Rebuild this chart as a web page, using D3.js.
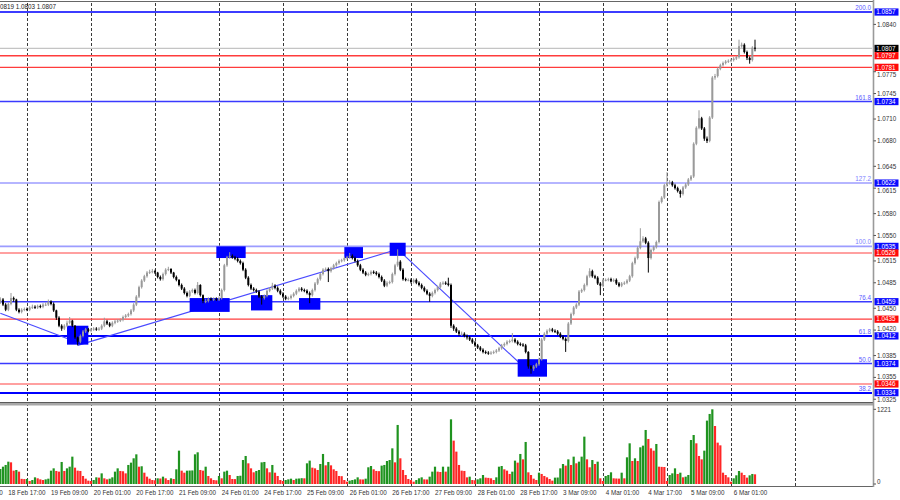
<!DOCTYPE html>
<html><head><meta charset="utf-8">
<script src="https://cdn.jsdelivr.net/npm/d3@7"></script>
<style>
body{margin:0;background:#fff}
svg{display:block}
text{font-family:"Liberation Sans",Arial,sans-serif;font-size:6.3px}
</style>
</head><body>
<svg id="chart" width="900" height="500"></svg>
<script>
// ---------------- DATA ----------------
const days = ["18 Feb","19 Feb","20 Feb","21 Feb","24 Feb","25 Feb","26 Feb","27 Feb","28 Feb","3 Mar","4 Mar","5 Mar","6 Mar","7 Mar"];
const firstHour = 14;           // first visible H1 bar: 18 Feb 14:00
const firstOpen = 1.0458;
const closes = [
1.0462,1.0455,1.0448,1.0456,1.0464,1.0462,1.0448,1.0445,1.0448,1.0449,
1.0448,1.0451,1.0452,1.0451,1.0453,1.0452,1.0455,1.0455,1.0459,1.0456,
1.0447,1.0437,1.0426,1.0422,1.0426,1.0430,1.0433,1.0426,1.0410,1.0404,
1.0412,1.0418,1.0421,1.0419,1.0421,1.0422,1.0421,1.0422,1.0426,1.0432,
1.0429,1.0426,1.0430,1.0432,1.0433,1.0434,1.0438,1.0440,1.0442,1.0447,
1.0455,1.0466,1.0479,1.0488,1.0494,1.0499,1.0500,1.0501,1.0499,1.0493,
1.0490,1.0497,1.0503,1.0504,1.0499,1.0493,1.0489,1.0482,1.0477,1.0471,
1.0467,1.0473,1.0475,1.0471,1.0482,1.0468,1.0460,1.0460,1.0463,1.0462,
1.0463,1.0462,1.0464,1.0475,1.0509,1.0520,1.0522,1.0520,1.0518,1.0515,
1.0512,1.0503,1.0492,1.0482,1.0477,1.0475,1.0473,1.0466,1.0464,1.0467,
1.0474,1.0477,1.0481,1.0478,1.0474,1.0470,1.0466,1.0463,1.0464,1.0467,
1.0470,1.0474,1.0477,1.0475,1.0474,1.0471,1.0468,1.0475,1.0484,1.0490,
1.0497,1.0503,1.0504,1.0501,1.0505,1.0509,1.0512,1.0515,1.0516,1.0519,
1.0520,1.0522,1.0519,1.0515,1.0509,1.0503,1.0499,1.0496,1.0497,1.0500,
1.0499,1.0497,1.0493,1.0488,1.0481,1.0485,1.0486,1.0497,1.0509,1.0514,
1.0503,1.0490,1.0489,1.0489,1.0486,1.0489,1.0485,1.0482,1.0478,1.0474,
1.0470,1.0467,1.0471,1.0475,1.0479,1.0484,1.0485,1.0484,1.0482,1.0426,
1.0422,1.0418,1.0415,1.0415,1.0412,1.0410,1.0407,1.0403,1.0399,1.0396,
1.0393,1.0390,1.0389,1.0388,1.0389,1.0390,1.0392,1.0395,1.0399,1.0401,
1.0404,1.0405,1.0407,1.0404,1.0401,1.0400,1.0399,1.0390,1.0370,1.0367,
1.0370,1.0373,1.0380,1.0407,1.0415,1.0419,1.0421,1.0419,1.0418,1.0415,
1.0411,1.0408,1.0405,1.0429,1.0442,1.0451,1.0455,1.0473,1.0475,1.0482,
1.0494,1.0501,1.0494,1.0492,1.0484,1.0481,1.0489,1.0489,1.0490,1.0488,
1.0489,1.0484,1.0481,1.0484,1.0485,1.0488,1.0494,1.0512,1.0519,1.0533,
1.0542,1.0546,1.0540,1.0519,1.0530,1.0534,1.0541,1.0596,1.0602,1.0619,
1.0622,1.0623,1.0619,1.0615,1.0611,1.0607,1.0616,1.0620,1.0627,1.0631,
1.0676,1.0698,1.0711,1.0697,1.0683,1.0680,1.0712,1.0767,1.0769,1.0779,
1.0784,1.0787,1.0789,1.0790,1.0791,1.0793,1.0795,1.0810,1.0812,1.0802,
1.0794,1.0791,1.0808,1.0807];
const highs = [
1.0465,1.0464,1.0457,1.0458,1.0471,1.0466,1.0463,1.0450,1.0450,1.0451,
1.0451,1.0453,1.0455,1.0454,1.0455,1.0455,1.0457,1.0458,1.0462,1.0461,
1.0458,1.0448,1.0439,1.0428,1.0428,1.0433,1.0438,1.0434,1.0427,1.0411,
1.0414,1.0420,1.0423,1.0423,1.0423,1.0424,1.0424,1.0424,1.0428,1.0437,
1.0434,1.0431,1.0432,1.0434,1.0435,1.0436,1.0440,1.0442,1.0444,1.0449,
1.0457,1.0468,1.0481,1.0490,1.0496,1.0501,1.0503,1.0504,1.0503,1.0500,
1.0495,1.0499,1.0505,1.0507,1.0505,1.0500,1.0495,1.0490,1.0484,1.0479,
1.0473,1.0475,1.0477,1.0477,1.0486,1.0483,1.0469,1.0463,1.0465,1.0465,
1.0465,1.0465,1.0466,1.0477,1.0511,1.0522,1.0527,1.0524,1.0522,1.0520,
1.0517,1.0514,1.0505,1.0494,1.0484,1.0479,1.0477,1.0475,1.0468,1.0469,
1.0476,1.0479,1.0485,1.0483,1.0480,1.0476,1.0472,1.0468,1.0466,1.0469,
1.0472,1.0476,1.0479,1.0479,1.0477,1.0476,1.0473,1.0477,1.0486,1.0492,
1.0499,1.0505,1.0506,1.0506,1.0507,1.0511,1.0514,1.0517,1.0518,1.0521,
1.0522,1.0526,1.0524,1.0521,1.0517,1.0511,1.0505,1.0501,1.0499,1.0502,
1.0502,1.0501,1.0499,1.0495,1.0490,1.0487,1.0488,1.0499,1.0511,1.0531,
1.0516,1.0505,1.0492,1.0491,1.0491,1.0491,1.0491,1.0487,1.0484,1.0480,
1.0476,1.0472,1.0473,1.0477,1.0481,1.0486,1.0487,1.0487,1.0492,1.0484,
1.0428,1.0424,1.0420,1.0418,1.0417,1.0414,1.0412,1.0409,1.0405,1.0401,
1.0398,1.0395,1.0392,1.0391,1.0391,1.0392,1.0394,1.0397,1.0401,1.0403,
1.0406,1.0407,1.0416,1.0409,1.0406,1.0403,1.0402,1.0401,1.0391,1.0372,
1.0372,1.0375,1.0382,1.0409,1.0417,1.0421,1.0423,1.0423,1.0421,1.0420,
1.0417,1.0413,1.0410,1.0431,1.0444,1.0453,1.0457,1.0475,1.0477,1.0484,
1.0496,1.0505,1.0503,1.0496,1.0494,1.0486,1.0491,1.0491,1.0492,1.0492,
1.0491,1.0491,1.0486,1.0486,1.0487,1.0490,1.0496,1.0514,1.0521,1.0535,
1.0560,1.0549,1.0548,1.0542,1.0532,1.0536,1.0543,1.0598,1.0604,1.0621,
1.0637,1.0626,1.0625,1.0621,1.0617,1.0613,1.0618,1.0622,1.0629,1.0633,
1.0678,1.0700,1.0722,1.0713,1.0699,1.0686,1.0714,1.0769,1.0772,1.0781,
1.0786,1.0789,1.0791,1.0792,1.0793,1.0795,1.0797,1.0819,1.0815,1.0814,
1.0804,1.0796,1.0810,1.0819];
const lows = [
1.0456,1.0453,1.0446,1.0446,1.0454,1.0459,1.0446,1.0443,1.0443,1.0446,
1.0446,1.0446,1.0449,1.0449,1.0449,1.0450,1.0450,1.0453,1.0453,1.0454,
1.0445,1.0434,1.0424,1.0419,1.0420,1.0424,1.0428,1.0424,1.0408,1.0399,
1.0402,1.0410,1.0416,1.0417,1.0417,1.0419,1.0419,1.0419,1.0420,1.0424,
1.0427,1.0424,1.0424,1.0428,1.0430,1.0431,1.0432,1.0436,1.0438,1.0440,
1.0445,1.0453,1.0464,1.0477,1.0486,1.0492,1.0497,1.0498,1.0497,1.0491,
1.0488,1.0488,1.0495,1.0501,1.0497,1.0491,1.0487,1.0480,1.0475,1.0469,
1.0465,1.0465,1.0471,1.0469,1.0469,1.0466,1.0457,1.0457,1.0458,1.0460,
1.0460,1.0460,1.0460,1.0462,1.0473,1.0507,1.0518,1.0518,1.0516,1.0513,
1.0510,1.0501,1.0490,1.0480,1.0475,1.0473,1.0471,1.0464,1.0455,1.0462,
1.0465,1.0472,1.0475,1.0476,1.0472,1.0468,1.0464,1.0461,1.0461,1.0462,
1.0465,1.0468,1.0472,1.0473,1.0472,1.0469,1.0457,1.0466,1.0473,1.0482,
1.0488,1.0495,1.0501,1.0486,1.0499,1.0503,1.0507,1.0510,1.0513,1.0514,
1.0517,1.0518,1.0517,1.0513,1.0507,1.0501,1.0497,1.0494,1.0494,1.0495,
1.0497,1.0495,1.0491,1.0486,1.0479,1.0479,1.0483,1.0484,1.0495,1.0507,
1.0501,1.0488,1.0487,1.0487,1.0484,1.0484,1.0483,1.0480,1.0476,1.0472,
1.0468,1.0459,1.0465,1.0469,1.0473,1.0477,1.0482,1.0482,1.0480,1.0423,
1.0419,1.0416,1.0412,1.0412,1.0410,1.0407,1.0405,1.0401,1.0397,1.0394,
1.0391,1.0388,1.0387,1.0386,1.0386,1.0387,1.0388,1.0390,1.0393,1.0397,
1.0399,1.0402,1.0403,1.0402,1.0399,1.0398,1.0397,1.0388,1.0367,1.0360,
1.0364,1.0368,1.0371,1.0378,1.0405,1.0413,1.0417,1.0417,1.0416,1.0413,
1.0409,1.0406,1.0390,1.0403,1.0427,1.0440,1.0449,1.0453,1.0471,1.0473,
1.0480,1.0492,1.0492,1.0490,1.0482,1.0468,1.0479,1.0487,1.0487,1.0486,
1.0486,1.0482,1.0479,1.0479,1.0482,1.0483,1.0486,1.0492,1.0510,1.0517,
1.0531,1.0540,1.0538,1.0499,1.0517,1.0528,1.0532,1.0539,1.0594,1.0600,
1.0617,1.0620,1.0617,1.0613,1.0609,1.0602,1.0605,1.0614,1.0618,1.0625,
1.0629,1.0674,1.0696,1.0695,1.0680,1.0677,1.0678,1.0710,1.0764,1.0767,
1.0777,1.0782,1.0785,1.0787,1.0788,1.0789,1.0791,1.0793,1.0808,1.0800,
1.0791,1.0786,1.0789,1.0803];
const volumes = [
245,283,311,365,354,218,229,202,84,80,
82,49,65,109,93,76,65,76,87,218,
256,213,202,360,213,256,283,447,267,218,
213,131,87,55,49,65,109,104,174,93,
76,87,109,202,256,213,208,174,311,349,
420,485,283,290,185,120,87,65,60,93,
90,120,93,65,93,82,240,545,218,185,
218,220,222,485,518,229,218,283,131,93,
65,60,131,93,202,218,147,82,80,131,
135,392,458,338,256,191,213,229,354,360,
256,191,311,185,131,65,49,65,76,87,
65,87,90,95,93,338,382,267,256,229,
327,491,305,360,305,240,213,131,128,65,
38,55,65,76,109,76,74,87,273,294,
240,213,210,300,311,376,392,583,354,965,
420,229,147,82,65,38,65,93,109,76,
74,120,202,283,202,196,283,202,283,1057,
709,529,311,218,213,109,120,65,60,76,
93,147,104,100,93,65,109,283,294,240,
218,164,202,382,349,491,403,687,191,147,
87,65,185,164,131,109,82,55,104,106,
256,327,300,403,311,447,338,365,447,774,
403,273,392,327,365,93,49,131,147,191,
93,90,88,185,93,436,665,376,420,376,
600,627,883,736,583,545,654,283,280,278,
49,147,174,256,164,185,109,120,147,719,
801,665,458,403,545,1036,1145,1221,948,676,
632,185,147,109,38,93,142,213,185,147,
104,142,164,158];
const priceTicks = [1.0840,1.0775,1.0745,1.0710,1.0680,1.0645,1.0615,1.0580,1.0550,1.0515,1.0485,1.0450,1.0420,1.0385,1.0355,1.0325];
const volumeTicks = [1221, 0];
const fibPrices = [1.0857,1.0734,1.0622,1.0535,1.0459,1.0412,1.0374,1.0334];
const fibNames  = ["200.0","161.8","127.2","100.0","76.4","61.8","50.0","38.2"];
const redPrices = [1.0797,1.0781,1.0526,1.0435,1.0346];
const bidPrice = 1.0807;
const headerText = "0819 1.0803 1.0807";
const rectFrom = [25,71,81,94,112,129,146,194];
const rectTo   = [33,86,92,102,120,136,152,205];
const rectHigh = [1.0426,1.0464,1.0535,1.0468,1.0464,1.0534,1.0540,1.0380];
const rectLow  = [1.0400,1.0445,1.0519,1.0447,1.0448,1.0519,1.0522,1.0356];
const trendLines = [
  [[0,1.0443],[29,1.0403]],
  [[29,1.0399],[149,1.0531]],
  [[149,1.0531],[199,1.0360]]
];

// ---------------- STYLE / LAYOUT ----------------
const paneRight = 872, axisX = 873.5;
const x = d3.scaleLinear().domain([10,274]).range([27,731]);
const y = d3.scaleLinear().domain([1.03212,1.08694]).range([402,3]);
const yv = d3.scaleLinear().domain([0,1221]).range([484,409.3]);
const fibStyle = {
  1.0857:{c:"#3c3cff",w:2,t:"#5a5aff"}, 1.0734:{c:"#3a3aff",w:1.4,t:"#5a5aff"}, 1.0622:{c:"#9c9cff",w:1.6,t:"#8080ff"},
  1.0535:{c:"#9c9cff",w:1.6,t:"#8080ff"}, 1.0459:{c:"#3a3aff",w:1.4,t:"#5a5aff"}, 1.0412:{c:"#0000ff",w:2,t:"#5a5aff"},
  1.0374:{c:"#3a3aff",w:1.4,t:"#5a5aff"}, 1.0334:{c:"#0000ff",w:2,t:"#5a5aff"}
};
const redStyle = {1.0797:{c:"#ff3c3c",w:1.4},1.0781:{c:"#ff3c3c",w:1.4},1.0526:{c:"#ffa0a0",w:2},1.0435:{c:"#ff3c3c",w:1.4},1.0346:{c:"#ffa0a0",w:2}};

const svg = d3.select("#chart");
svg.append("rect").attr("width",900).attr("height",500).attr("fill","#fff");

function timeOf(i){
  const h = firstHour + i;
  const d = Math.floor(h/24);
  const hh = ((h%24)+24)%24;
  return {day:days[d], hour:hh};
}
const pad = n => (n<10?"0":"")+n;

const defs = svg.append("defs");
defs.append("clipPath").attr("id","pc").append("rect").attr("x",0).attr("y",2).attr("width",paneRight).attr("height",400);
defs.append("clipPath").attr("id","vc").append("rect").attr("x",0).attr("y",405).attr("width",paneRight).attr("height",81);

// vertical dashed grid at day starts
const lastIdx = (days.length-1)*24 - firstHour;
const gridIdx = d3.range(-13, lastIdx+1).filter(i=>timeOf(i).hour===0);
svg.append("g").selectAll("line").data(gridIdx).join("line")
  .attr("x1",d=>Math.round(x(d))+0.5).attr("x2",d=>Math.round(x(d))+0.5)
  .attr("y1",3).attr("y2",486)
  .attr("stroke","#3a3a3a").attr("stroke-width",1).attr("stroke-dasharray","3,2");

const pane = svg.append("g").attr("clip-path","url(#pc)");

function hline(p, c, w){
  const yy = w >= 2 ? Math.round(y(p)) : y(p);
  pane.append("line").attr("x1",0).attr("x2",paneRight).attr("y1",yy).attr("y2",yy)
    .attr("stroke",c).attr("stroke-width",w);
}
hline(bidPrice, "#c4c4c4", 1.2);
redPrices.forEach(p=>hline(p, redStyle[p].c, redStyle[p].w));
fibPrices.forEach(p=>hline(p, fibStyle[p].c, fibStyle[p].w));

// trend lines
pane.append("g").selectAll("line").data(trendLines).join("line")
  .attr("x1",d=>x(d[0][0])).attr("y1",d=>y(d[0][1]))
  .attr("x2",d=>x(d[1][0])).attr("y2",d=>y(d[1][1]))
  .attr("stroke","#4a4aff").attr("stroke-width",1.1);

// rectangles
pane.append("g").selectAll("rect").data(rectFrom.map((f,k)=>k)).join("rect")
  .attr("x",k=>x(rectFrom[k])).attr("width",k=>x(rectTo[k])-x(rectFrom[k]))
  .attr("y",k=>y(rectHigh[k])).attr("height",k=>y(rectLow[k])-y(rectHigh[k]))
  .attr("fill","#0000ff");

// candles
const bars = closes.map((c,i)=>({i,o:i?closes[i-1]:firstOpen,c,h:highs[i],l:lows[i]}));
const cg = pane.append("g");
const col = d => d.c>=d.o ? "#9a9a9a" : "#000";
cg.selectAll("line").data(bars).join("line")
  .attr("x1",d=>x(d.i)).attr("x2",d=>x(d.i))
  .attr("y1",d=>y(d.h)).attr("y2",d=>y(d.l))
  .attr("stroke",col).attr("stroke-width",1);
cg.selectAll("rect").data(bars).join("rect")
  .attr("x",d=>x(d.i)-1).attr("width",2)
  .attr("y",d=>y(Math.max(d.o,d.c)))
  .attr("height",d=>Math.max(1,Math.abs(y(d.o)-y(d.c))))
  .attr("fill",col);

// volumes
const vg = svg.append("g").attr("clip-path","url(#vc)");
vg.selectAll("rect").data(volumes.map((v,i)=>({i,v,up: i===0 || v>volumes[i-1]}))).join("rect")
  .attr("x",d=>x(d.i)-1.1).attr("width",2.2)
  .attr("y",d=>yv(d.v)).attr("height",d=>yv(0)-yv(d.v))
  .attr("fill",d=>d.up?"#1f931f":"#ff2626");

// pane separator, borders, axis
svg.append("rect").attr("x",0).attr("y",402.5).attr("width",axisX).attr("height",3).attr("fill","#a8a8a8");
svg.append("line").attr("x1",0).attr("x2",axisX).attr("y1",402.5).attr("y2",402.5).attr("stroke","#5a5a5a");
svg.append("line").attr("x1",0).attr("x2",axisX).attr("y1",1.5).attr("y2",1.5).attr("stroke","#666");
svg.append("line").attr("x1",0).attr("x2",axisX).attr("y1",486.5).attr("y2",486.5).attr("stroke","#666");
svg.append("line").attr("x1",axisX).attr("x2",axisX).attr("y1",0).attr("y2",487).attr("stroke","#9a9a9a").attr("stroke-width",1.6);

// price boxes (positions used to keep tick labels clear of them)
const boxes = [
  ...fibPrices.map(p=>({p, fill:"#0a0aff"})),
  ...redPrices.map(p=>({p, fill:"#ff0a0a"})),
  {p:bidPrice, fill:"#000"}
];
const boxHalf = 3.6, asc = 5.7, desc = 1.4;

// price ticks
const tg = svg.append("g");
priceTicks.forEach(p=>{
  const yy = y(p);
  let base = yy + 2.2;
  boxes.forEach(b=>{
    const top = y(b.p)-boxHalf, bot = y(b.p)+boxHalf;
    if (base-asc < bot && base+desc > top) {
      base = (yy >= y(b.p)) ? bot + asc + 0.2 : top - desc - 0.2;
    }
  });
  tg.append("line").attr("x1",axisX).attr("x2",axisX+2.5).attr("y1",yy).attr("y2",yy).attr("stroke","#555");
  tg.append("text").attr("x",877).attr("y",base).attr("fill","#333").text(p.toFixed(4));
});
volumeTicks.forEach(v=>{
  tg.append("line").attr("x1",axisX).attr("x2",axisX+2.5).attr("y1",yv(v)).attr("y2",yv(v)).attr("stroke","#555");
  tg.append("text").attr("x",877).attr("y",Math.min(yv(v)+2.2,483.5)).attr("fill","#333").text(v);
});

// fib labels
fibPrices.forEach((p,k)=>{
  svg.append("text").attr("x",871).attr("y",y(p)-2).attr("text-anchor","end")
    .attr("fill", fibStyle[p].t).text(fibNames[k]);
});

boxes.forEach(b=>{
  svg.append("rect").attr("x",874.5).attr("y",y(b.p)-boxHalf).attr("width",24).attr("height",boxHalf*2).attr("fill",b.fill);
  svg.append("text").attr("x",876.3).attr("y",y(b.p)+2.3).attr("fill","#fff").text(b.p.toFixed(4));
});

// header
svg.append("text").attr("x",0).attr("y",9.3).attr("fill","#222").text(headerText);

// time labels
const labelIdx = d3.range(-13, closes.length, 16);
svg.append("g").selectAll("text").data(labelIdx).join("text")
  .attr("x",d=>x(d)).attr("y",495).attr("fill","#333")
  .text(d=>{const t=timeOf(d); return `${t.day} ${pad(t.hour)}:00`;});
</script>
</body></html>
